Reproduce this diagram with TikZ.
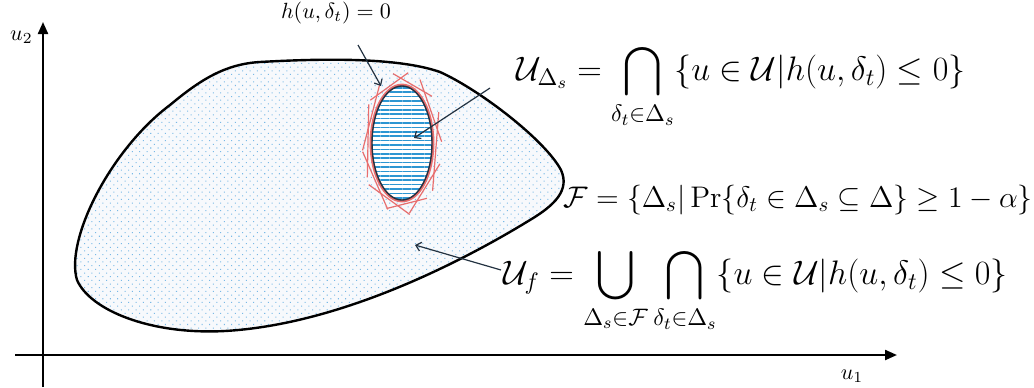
\RequirePackage{fix-cm}
\documentclass[tikz,border=0pt]{standalone}
\usepackage{amsmath}
\usetikzlibrary{patterns.meta,arrows.meta,calc}
\definecolor{dotblue}{RGB}{120,185,230}
\definecolor{lineblue}{RGB}{45,150,210}
\definecolor{redl}{RGB}{232,110,110}
\definecolor{ink}{RGB}{35,50,65}
\definecolor{blobfill}{RGB}{247,249,252}
\newcommand\fsA{\fontsize{17}{20}\selectfont}
\newcommand\fsB{\fontsize{14.9}{18}\selectfont}
\newcommand\fsS{\fontsize{11}{13}\selectfont}
\tikzset{
  axis/.style={line width=1.1pt,-{Triangle[length=6pt,width=5pt]}},
  blob/.style={line width=1.2pt,black},
  pointer/.style={ink,line width=0.6pt,-{Straight Barb[length=2.5pt,width=4.5pt]}},
  tangent/.style={redl,line width=0.6pt},
  formula/.style={anchor=base west,inner sep=0pt,font=\fsA},
}
\begin{document}
\begin{tikzpicture}[x=0.5pt,y=-0.5pt]
\useasboundingbox (0,0) rectangle (1034,387);
% axes
\coordinate (yb) at (43,387);
\coordinate (yt) at (43,22);
\coordinate (xl) at (15,355);
\coordinate (xr) at (897,355);
\draw[axis] (yb) -- (yt);
\draw[axis] (xl) -- (xr);
\node[font=\fsS,anchor=east,inner sep=1pt] (u2) at (35,37) {$u_2$};
\node[font=\fsS,inner sep=1pt] (u1) at (852,376) {$u_1$};
% blob
\def\blobpath{(260,62) .. controls (330,58) and (400,58) .. (440,72)
  .. controls (480,90) and (545,140) .. (561,170)
  .. controls (570,190) and (555,205) .. (530,220)
  .. controls (445,272) and (330,325) .. (225,331)
  .. controls (150,335) and (90,310) .. (77,280)
  .. controls (65,240) and (110,150) .. (170,105)
  .. controls (200,80) and (225,64) .. (260,62) -- cycle}
\fill[blobfill] \blobpath;
\fill[pattern={Dots[distance=2.6pt,angle=45,radius=0.36pt]},pattern color=dotblue] \blobpath;
\draw[blob,line join=round] \blobpath;
% inner set
\fill[white] (402,143) ellipse [x radius=30,y radius=57];
\fill[pattern={Lines[distance=2.2pt,angle=0,line width=0.85pt]},pattern color=lineblue] (402,143) ellipse [x radius=30,y radius=57];
\draw[redl,line width=1.4pt] (402,143) ellipse [x radius=31,y radius=58];
\draw[ink,line width=0.7pt] (402,143) ellipse [x radius=30,y radius=57];
\foreach \t/\k in {-155/0.6,-112/0.6,-72/0.6,-32/0.6,8/0.65,48/0.6,82/0.6,112/0.65,142/0.6,182/0.6}{
  \draw[tangent] ({402+34*cos(\t)+\k*34*sin(\t)},{143+61*sin(\t)-\k*61*cos(\t)}) -- ({402+34*cos(\t)-\k*34*sin(\t)},{143+61*sin(\t)+\k*61*cos(\t)});
}
% labels and pointers
\node[font=\fsS,inner sep=1pt] (hlab) at (336,13) {$h(u,\delta_t)=0$};
\coordinate (hs) at (358,45);
\coordinate (he) at (381,86);
\draw[pointer] (hs) -- (he);
\node[formula] (f1) at (516,80) {$\displaystyle \mathcal{U}_{\Delta_s} = \bigcap_{\delta_t\in\Delta_s}\{u\in\mathcal{U}|h(u,\delta_t)\le 0\}$};
\coordinate (ds) at (490,88);
\coordinate (de) at (414,138);
\draw[pointer] (ds) -- (de);
\node[formula,font=\fsB] (f2) at (563,207) {$\mathcal{F} = \{\Delta_s|\Pr\{\delta_t\in\Delta_s\subseteq\Delta\}\ge 1-\alpha\}$};
\node[formula] (f3) at (503,284) {$\displaystyle \mathcal{U}_f = \bigcup_{\Delta_s\in\mathcal{F}}\bigcap_{\delta_t\in\Delta_s}\{u\in\mathcal{U}|h(u,\delta_t)\le 0\}$};
\coordinate (fs) at (501,270);
\coordinate (fe) at (415,245);
\draw[pointer] (fs) -- (fe);
\end{tikzpicture}
\end{document}
